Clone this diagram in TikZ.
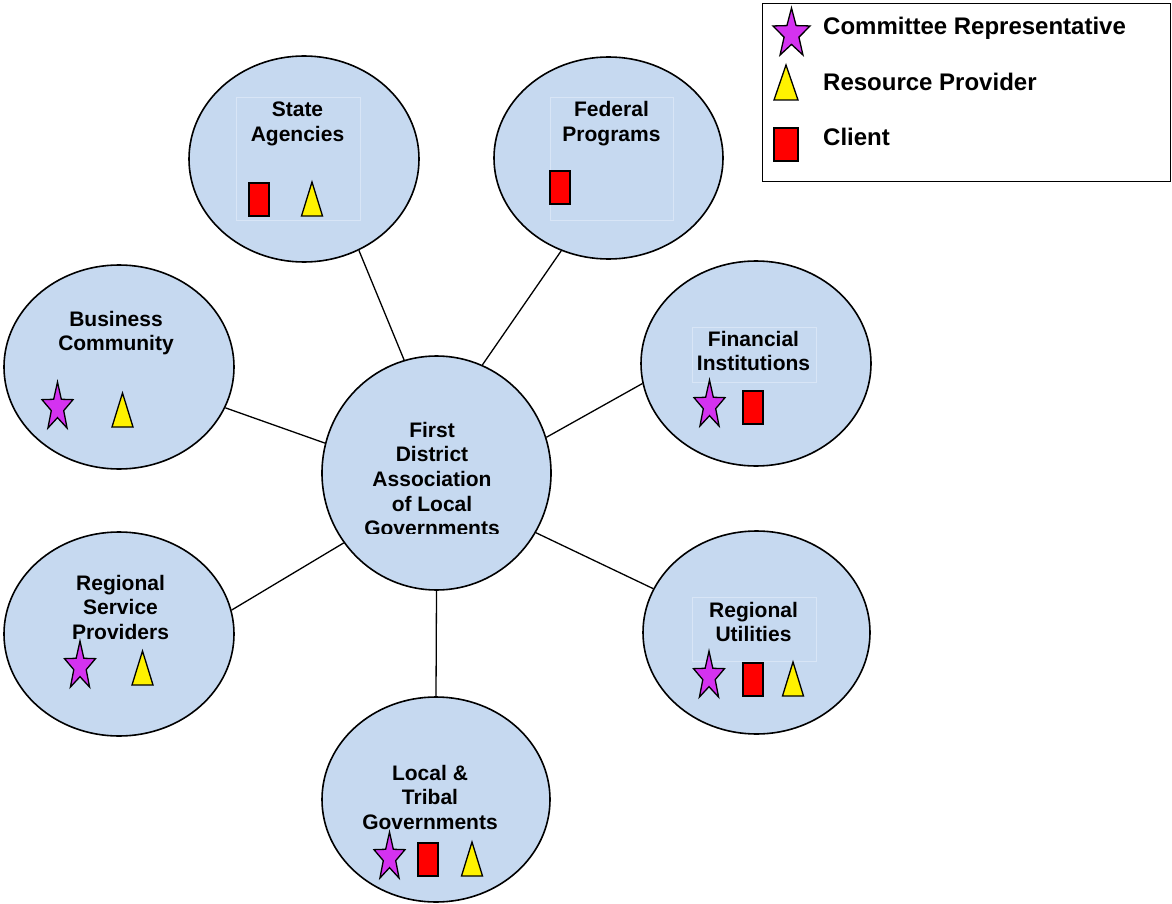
\documentclass[tikz,border=0pt]{standalone}
\usepackage{fontspec}
\setmainfont{Liberation Sans}
\usetikzlibrary{shapes.geometric}
\definecolor{bubfill}{RGB}{198,217,240}
\definecolor{starc}{RGB}{212,50,240}
\definecolor{boxc}{RGB}{216,229,246}
\tikzset{
  bub/.style={ellipse, draw=black, line width=1.6pt, fill=bubfill, inner sep=0pt},
  lbl/.style={font=\bfseries\fontsize{21}{25}\selectfont, inner sep=0pt},
  legtxt/.style={font=\bfseries\fontsize{24}{28}\selectfont, inner sep=0pt, anchor=base west},
  conn/.style={draw=black, line width=1.3pt},
  clientsty/.style={draw=black, line width=1.3pt, fill=red},
  provsty/.style={draw=black, line width=1.3pt, fill=yellow, line join=miter},
  starsty/.style={draw=black, line width=1.3pt, fill=starc, line join=miter},
  tbox/.style={draw=boxc, line width=0.7pt},
  legbox/.style={draw=black, line width=1.5pt, fill=white}
}
\newcommand\mystar[4]{\draw[starsty] plot[samples at={0,...,9}] ({#1+#3*(1-0.6*mod(\x,2))*cos(90+36*\x)},{#2-#4*(1-0.6*mod(\x,2))*sin(90+36*\x)}) -- cycle;}
\newcommand\myclient[2]{\draw[clientsty] (#1,#2) rectangle ++(20,33);}
\newcommand\myprov[2]{\draw[provsty] (#1,{#2+34}) -- ++(10.5,-34) -- ++(10.5,34) -- cycle;}
\newcommand\tlines[4]{\foreach \t [count=\i from 0] in {#4}{\node[lbl, anchor=base] (#1\i) at (#2,{#3+24.7*\i}) {\t};}}
\begin{document}
\begin{tikzpicture}[x=1pt,y=-1pt]
\useasboundingbox (0,0) rectangle (1172,904);
\fill[white] (0,0) rectangle (1172,904);

% bubbles
\node[bub, minimum width=230pt, minimum height=206pt] (sa) at (304,159) {};
\node[bub, minimum width=229pt, minimum height=202pt] (fp) at (608.5,158) {};
\node[bub, minimum width=230pt, minimum height=204pt] (bc) at (119,367) {};
\node[bub, minimum width=230pt, minimum height=205pt] (fi) at (756,363.5) {};
\node[bub, minimum width=229pt, minimum height=234pt] (fd) at (436.5,473) {};
\node[bub, minimum width=230pt, minimum height=204pt] (rs) at (119,634) {};
\node[bub, minimum width=227pt, minimum height=203pt] (ru) at (756.5,632.5) {};
\node[bub, minimum width=228pt, minimum height=205pt] (lt) at (436,799.5) {};

% connectors
\draw[conn] (sa.-59.6) -- (fd.106);
\draw[conn] (fp.-117.3) -- (fd.67.2);
\draw[conn] (bc.-21) -- (fd.165.9);
\draw[conn] (fi.190.6) -- (fd.18.2);
\draw[conn] (rs.12.3) -- (fd.217.3);
\draw[conn] (ru.157.8) -- (fd.-31.9);
\draw[conn] (lt.90) -- (fd.-90);

% faint text boxes
\draw[tbox] (236,97) rectangle (360,220);
\draw[tbox] (550,97) rectangle (673,220);
\draw[tbox] (692,327) rectangle (816,382);
\draw[tbox] (692,597) rectangle (816,661);

% labels
\tlines{sat}{297.5}{117}{State,Agencies}
\tlines{fpt}{611.5}{117}{Federal,Programs}
\tlines{bct}{116}{326}{Business,Community}
\tlines{fit}{753.5}{346}{Financial,Institutions}
\begin{scope}
\clip (300,380) rectangle (570,533);
\tlines{fdt}{432}{437}{First,District,Association,of Local,Governments}
\end{scope}
\tlines{rst}{120.5}{590}{Regional,Service,Providers}
\tlines{rut}{753.5}{617}{Regional,Utilities}
\tlines{ltt}{430}{780}{Local \&,Tribal,Governments}

% symbols in bubbles
\myclient{249}{183}\myprov{301.5}{182}
\myclient{550}{171}
\mystar{57.5}{407.5}{16.3}{25.4}\myprov{112}{393}
\mystar{709.5}{405.5}{16.3}{25.4}\myclient{743}{391}
\mystar{80}{666.5}{16.3}{25.4}\myprov{132}{651}
\mystar{709}{676.5}{16.3}{25.4}\myclient{743}{663}\myprov{782.5}{662}
\mystar{389.5}{857.5}{16.3}{25.4}\myclient{418}{843}\myprov{461.5}{842}

% legend
\draw[legbox] (762.5,3.5) rectangle (1170.5,181.5);
\mystar{791.5}{34}{19.5}{26}
\draw[provsty] (774,100) -- (786,65) -- (798,100) -- cycle;
\draw[clientsty] (774,128) rectangle (798,161);
\node[legtxt] (l1) at (823,35) {Committee Representative};
\node[legtxt] (l2) at (823,91) {Resource Provider};
\node[legtxt] (l3) at (823,146) {Client};
\end{tikzpicture}
\end{document}
